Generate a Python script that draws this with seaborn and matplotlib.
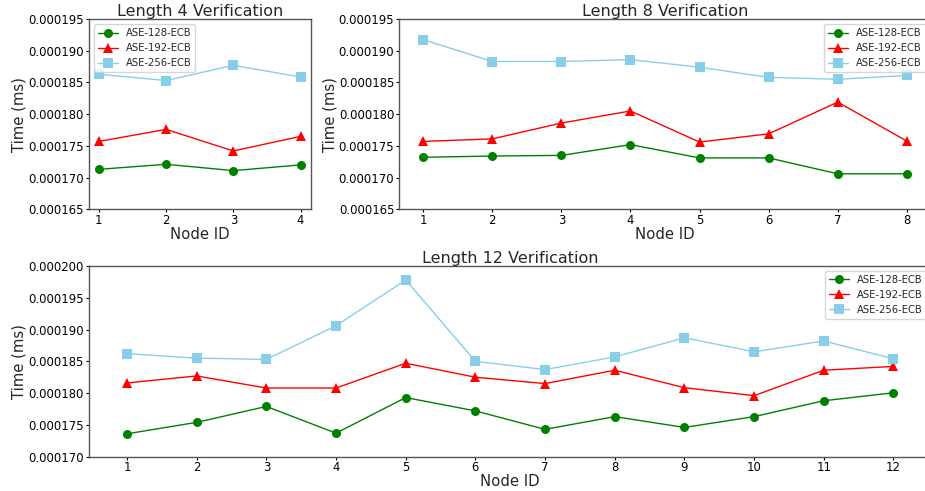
import matplotlib
matplotlib.use('Agg')
import matplotlib.pyplot as plt
from matplotlib.ticker import FormatStrFormatter, MultipleLocator
import seaborn as sns
import pandas as pd

# values, in units of 1e-6 ms
nodes_4 = [1, 2, 3, 4]
aes128_4 = [171.3, 172.1, 171.1, 172.0]
aes192_4 = [175.7, 177.6, 174.2, 176.5]
aes256_4 = [186.3, 185.3, 187.7, 185.85]

nodes_8 = [1, 2, 3, 4, 5, 6, 7, 8]
aes128_8 = [173.2, 173.4, 173.5, 175.2, 173.1, 173.1, 170.6, 170.6]
aes192_8 = [175.7, 176.1, 178.6, 180.5, 175.6, 176.9, 181.9, 175.75]
aes256_8 = [191.75, 188.3, 188.3, 188.6, 187.4, 185.8, 185.5, 186.1]

nodes_12 = [1, 2, 3, 4, 5, 6, 7, 8, 9, 10, 11, 12]
aes128_12 = [173.6, 175.4, 177.9, 173.7, 179.3, 177.2, 174.3, 176.3, 174.6, 176.3, 178.8, 180.05]
aes192_12 = [181.6, 182.7, 180.8, 180.8, 184.7, 182.5, 181.5, 183.6, 180.85, 179.6, 183.6, 184.2]
aes256_12 = [186.2, 185.5, 185.3, 190.6, 197.8, 185.0, 183.7, 185.7, 188.7, 186.5, 188.2, 185.4]

labels = ['ASE-128-ECB', 'ASE-192-ECB', 'ASE-256-ECB']
colors = ['green', 'red', 'skyblue']
markers = ['o', '^', 's']

sns.set_style('ticks')
plt.rcParams['font.family'] = ['DejaVu Sans']

fig = plt.figure(figsize=(9.25, 4.91), dpi=100)
ax1 = fig.add_axes([0.0959, 0.5737, 0.2400, 0.3876])
ax2 = fig.add_axes([0.4314, 0.5737, 0.5751, 0.3876])
ax3 = fig.add_axes([0.0959, 0.0699, 0.9114, 0.3884])


def draw(ax, nodes, series, title, ylim, loc):
    for vals, lab, col, mk in zip(series, labels, colors, markers):
        df = pd.DataFrame({'Node ID': nodes, 'Time': [v * 1e-6 for v in vals]})
        sns.lineplot(data=df, x='Node ID', y='Time', ax=ax, color=col, marker=mk,
                     markersize=6.5, mec=col, mew=0, linewidth=1, label=lab)
    ax.set_ylim(ylim)
    ax.yaxis.set_major_locator(MultipleLocator(5e-6))
    ax.yaxis.set_major_formatter(FormatStrFormatter('%.6f'))
    ax.set_xticks(nodes)
    ax.tick_params(labelsize=8.4, colors='black', length=2.2, width=0.8, pad=1.2)
    ax.set_title(title, fontsize=11.5, pad=2)
    ax.set_xlabel('Node ID', fontsize=10.7, labelpad=0)
    ax.set_ylabel('Time (ms)', fontsize=10.7, labelpad=1)
    for s in ax.spines.values():
        s.set_color('#555555')
        s.set_linewidth(1.0)
    ax.legend(loc=loc, fontsize=7.2, frameon=True, fancybox=True)


draw(ax1, nodes_4, [aes128_4, aes192_4, aes256_4], 'Length 4 Verification',
     (0.000165, 0.000195), 'upper left')
draw(ax2, nodes_8, [aes128_8, aes192_8, aes256_8], 'Length 8 Verification',
     (0.000165, 0.000195), 'upper right')
draw(ax3, nodes_12, [aes128_12, aes192_12, aes256_12], 'Length 12 Verification',
     (0.000170, 0.000200), 'upper right')

fig.savefig('out.png', dpi=100)
